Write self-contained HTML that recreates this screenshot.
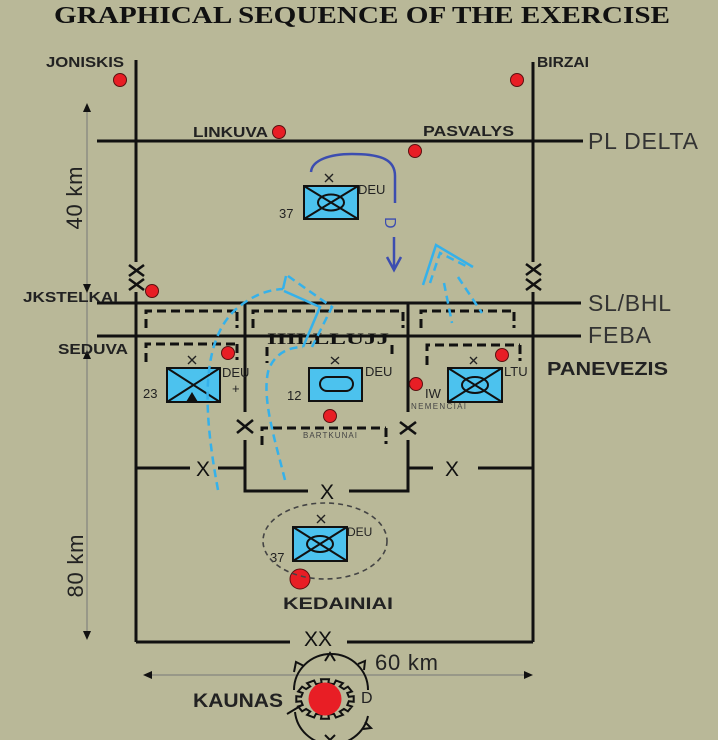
<!DOCTYPE html>
<html><head><meta charset="utf-8"><style>
html,body{margin:0;padding:0;background:#b9b898;}
svg{display:block;}
text{font-family:"Liberation Sans",sans-serif;}
</style></head><body>
<svg width="718" height="740" viewBox="0 0 718 740" xmlns="http://www.w3.org/2000/svg">
<rect width="718" height="740" fill="#b9b898"/>
<!-- Title -->
<text x="54" y="23" font-weight="bold" font-size="24" fill="#111" textLength="616" lengthAdjust="spacingAndGlyphs" style="font-family:'Liberation Serif',serif">GRAPHICAL SEQUENCE OF THE EXERCISE</text>

<!-- scale lines -->
<g stroke="#777" stroke-width="1" fill="none">
<line x1="87" y1="108" x2="87" y2="636"/>
<line x1="148" y1="675" x2="528" y2="675"/>
</g>
<g fill="#111">
<polygon points="87,103 83,112 91,112"/>
<polygon points="87,293 83,284 91,284"/>
<polygon points="87,350 83,359 91,359"/>
<polygon points="87,640 83,631 91,631"/>
<polygon points="143,675 152,671 152,679"/>
<polygon points="533,675 524,671 524,679"/>
</g>
<text transform="translate(82,198) rotate(-90)" text-anchor="middle" font-size="22" fill="#222" textLength="63">40 km</text>
<text transform="translate(83,566) rotate(-90)" text-anchor="middle" font-size="22" fill="#222" textLength="63">80 km</text>
<text x="375" y="670" font-size="22" fill="#222" textLength="63">60 km</text>

<!-- main lines -->
<g stroke="#111" stroke-width="3" fill="none">
<path d="M136,60 V262 M136,292 V642"/>
<path d="M533,62 V262 M533,292 V642"/>
<path d="M136,642 H290 M347,642 H533"/>
<path d="M97,141 H583"/>
<path d="M97,303 H581"/>
<path d="M97,336 H581"/>
<path d="M245,303 V412 M245,440 V491 H308 M349,491 H408 V440 M408,412 V303"/>
<path d="M136,468 H190 M218,468 H245 M408,468 H433 M478,468 H533"/>
</g>
<!-- XX on verticals -->
<g stroke="#111" stroke-width="2.6">
<path d="M129,265 L144,276 M144,265 L129,276 M129,279 L144,290 M144,279 L129,290"/>
<path d="M526,264 L541,275 M541,264 L526,275 M526,279 L541,290 M541,279 L526,290"/>
<path d="M237,420 L253,433 M253,420 L237,433"/>
<path d="M400,422 L416,434 M416,422 L400,434"/>
</g>
<g font-size="21" fill="#111" text-anchor="middle">
<text x="203" y="476">X</text>
<text x="452" y="476">X</text>
<text x="327" y="499">X</text>
<text x="318" y="646">XX</text>
</g>

<!-- line labels -->
<g font-size="23" fill="#333">
<text x="588" y="149" textLength="110">PL DELTA</text>
<text x="588" y="311" textLength="83">SL/BHL</text>
<text x="588" y="343" textLength="63">FEBA</text>
</g>

<!-- dashed boxes -->
<g stroke="#111" stroke-width="3" fill="none" stroke-dasharray="9 5">
<path d="M146,328 V311 H237"/>
<path d="M237,312 V328" stroke-dasharray="9 4 3 20"/>
<path d="M253,328 V311 H403"/>
<path d="M403,312 V328" stroke-dasharray="9 4 3 20"/>
<path d="M421,328 V311 H514"/>
<path d="M514,312 V328" stroke-dasharray="9 4 3 20"/>
<path d="M146,362 V344 H237"/>
<path d="M237,344 V362" stroke-dasharray="9 4 3 20"/>
<path d="M267,347 V363"/>
<path d="M392,345 V358" stroke-dasharray="9 4 3 20"/>
<path d="M427,365 V345 H520"/>
<path d="M520,345 V362" stroke-dasharray="9 4 3 20"/>
<path d="M262,445 V428 H386"/>
<path d="M386,428 V445" stroke-dasharray="9 4 3 20"/>
</g>
<text x="267" y="344" font-size="16" font-weight="bold" fill="#111" textLength="122" lengthAdjust="spacingAndGlyphs" style="font-family:'Liberation Serif',serif">IIILLLUJJ</text>

<!-- Red dots -->
<g fill="#e81e25" stroke="#5a1010" stroke-width="1">
<circle cx="120" cy="80" r="6.5"/>
<circle cx="279" cy="132" r="6.5"/>
<circle cx="517" cy="80" r="6.5"/>
<circle cx="415" cy="151" r="6.5"/>
<circle cx="152" cy="291" r="6.5"/>
<circle cx="228" cy="353" r="6.5"/>
<circle cx="330" cy="416" r="6.5"/>
<circle cx="502" cy="355" r="6.5"/>
<circle cx="416" cy="384" r="6.5"/>
<circle cx="300" cy="579" r="10"/>
</g>

<!-- city labels -->
<g font-size="15" font-weight="bold" fill="#222">
<text x="46" y="67" textLength="78" lengthAdjust="spacingAndGlyphs">JONISKIS</text>
<text x="193" y="137" textLength="75" lengthAdjust="spacingAndGlyphs">LINKUVA</text>
<text x="537" y="67" textLength="52" lengthAdjust="spacingAndGlyphs">BIRZAI</text>
<text x="423" y="136" textLength="91" lengthAdjust="spacingAndGlyphs">PASVALYS</text>
<text x="23" y="302" textLength="95" lengthAdjust="spacingAndGlyphs">JKSTELKAI</text>
<text x="58" y="354" textLength="70" lengthAdjust="spacingAndGlyphs">SEDUVA</text>
<text x="547" y="375" font-size="18" textLength="121" lengthAdjust="spacingAndGlyphs">PANEVEZIS</text>
<text x="283" y="609" font-size="17" textLength="110" lengthAdjust="spacingAndGlyphs">KEDAINIAI</text>
<text x="193" y="707" font-size="19" textLength="90" lengthAdjust="spacingAndGlyphs">KAUNAS</text>
</g>

<!-- Units -->
<g stroke="#111" stroke-width="2">
<rect x="304" y="186" width="54" height="33" fill="#4cc2ee"/>
<path d="M304,186 L358,219 M358,186 L304,219" fill="none"/>
<ellipse cx="331" cy="202.5" rx="13" ry="8" fill="none"/>
<rect x="167" y="368" width="53" height="34" fill="#4cc2ee"/>
<path d="M167,368 L220,402 M220,368 L167,402" fill="none"/>
<rect x="309" y="368" width="53" height="33" fill="#4cc2ee"/>
<rect x="320" y="377" width="33" height="14" rx="7" fill="none"/>
<rect x="448" y="368" width="54" height="34" fill="#4cc2ee"/>
<path d="M448,368 L502,402 M502,368 L448,402" fill="none"/>
<ellipse cx="475" cy="385" rx="13" ry="8" fill="none"/>
<rect x="293" y="527" width="54" height="34" fill="#4cc2ee"/>
<path d="M293,527 L347,561 M347,527 L293,561" fill="none"/>
<ellipse cx="320" cy="544" rx="13" ry="8" fill="none"/>
</g>
<polygon points="192,392 186,402 198,402" fill="#111"/>
<g stroke="#222" stroke-width="1.4">
<path d="M325,174 L333,182 M333,174 L325,182"/>
<path d="M188,356 L196,364 M196,356 L188,364"/>
<path d="M331,357 L339,364 M339,357 L331,364"/>
<path d="M470,357 L477,364 M477,357 L470,364"/>
<path d="M317,515 L325,523 M325,515 L317,523"/>
</g>
<g font-size="13" fill="#222">
<text x="358" y="194">DEU</text>
<text x="279" y="218">37</text>
<text x="222" y="377">DEU</text>
<text x="232" y="393">+</text>
<text x="143" y="398">23</text>
<text x="365" y="376">DEU</text>
<text x="287" y="400">12</text>
<text x="504" y="376">LTU</text>
<text x="425" y="398">IW</text>
<text x="347" y="536" font-size="12">DEU</text>
<text x="270" y="562">37</text>
</g>
<g font-size="8" fill="#444">
<text x="303" y="438" textLength="54">BARTKUNAI</text>
<text x="411" y="409" textLength="55">NEMENCIAI</text>
</g>
<ellipse cx="325" cy="541" rx="62" ry="38" fill="none" stroke="#444" stroke-width="1.6" stroke-dasharray="5 4"/>

<!-- Dark blue arc and arrow -->
<g stroke="#3c4db0" stroke-width="2.5" fill="none">
<path d="M311,172 C312,160 330,154 352,154 C382,154 395,160 395,176 L395,203"/>
<path d="M394,237 L394,268 M387,257 L394,270 L401,257"/>
</g>
<text transform="translate(385,217) rotate(90)" font-size="16" fill="#3c4db0">D</text>

<!-- Light blue arrows -->
<g stroke="#35b1ea" stroke-width="2.5" fill="none">
<path d="M218,490 C205,420 198,345 235,310 C250,297 265,290 283,289" stroke-dasharray="8 5"/>
<path d="M285,480 C275,440 262,400 268,372 C273,355 287,347 303,347" stroke-dasharray="8 5"/>
<path d="M283,289 L286,276"/>
<path d="M288,276 L332,307 L312,347" stroke-dasharray="8 5"/>
<path d="M284,291 L320,307 L303,347"/>
<path d="M423,285 L436,245 L473,267"/>
<path d="M430,283 L440,253 L470,268" stroke-dasharray="8 5"/>
<path d="M444,283 L452,323 M458,277 L482,313" stroke-dasharray="8 5"/>
</g>

<!-- Kaunas symbol -->
<g stroke="#111" stroke-width="2" fill="none">
<path d="M294,690 A37,36 0 0 1 368,690"/>
<path d="M295,712 A37,36 0 0 0 368,716"/>
<path d="M287,714 L302,705"/>
<path d="M353.7,696.2 L353.7,701.8 L348.8,701.2 L347.3,705.0 L351.9,706.5 L347.9,711.3 L343.9,708.9 L339.8,711.6 L342.9,714.8 L335.9,717.5 L334.0,713.8 L328.3,714.8 L329.0,718.8 L321.0,718.8 L321.7,714.8 L316.0,713.8 L314.1,717.5 L307.1,714.8 L310.2,711.6 L306.1,708.9 L302.1,711.3 L298.1,706.5 L302.7,705.0 L301.2,701.2 L296.3,701.8 L296.3,696.2 L301.2,696.8 L302.7,693.0 L298.1,691.5 L302.1,686.7 L306.1,689.1 L310.2,686.4 L307.1,683.2 L314.1,680.5 L316.0,684.2 L321.7,683.2 L321.0,679.2 L329.0,679.2 L328.3,683.2 L334.0,684.2 L335.9,680.5 L342.9,683.2 L339.8,686.4 L343.9,689.1 L347.9,686.7 L351.9,691.5 L347.3,693.0 L348.8,696.8 Z"/>
<path d="M325,661 L330,653 L335,661"/>
<path d="M294,672 L296,662 L304,666"/>
<path d="M358,664 L365,661 L364,670"/>
<path d="M365,722 L371,728 L363,729"/>
<path d="M325,735 L330,740 L335,735"/>
</g>
<circle cx="325" cy="699" r="16.5" fill="#e81e25"/>
<text x="361" y="703" font-size="16" fill="#222">D</text>
</svg>
</body></html>
